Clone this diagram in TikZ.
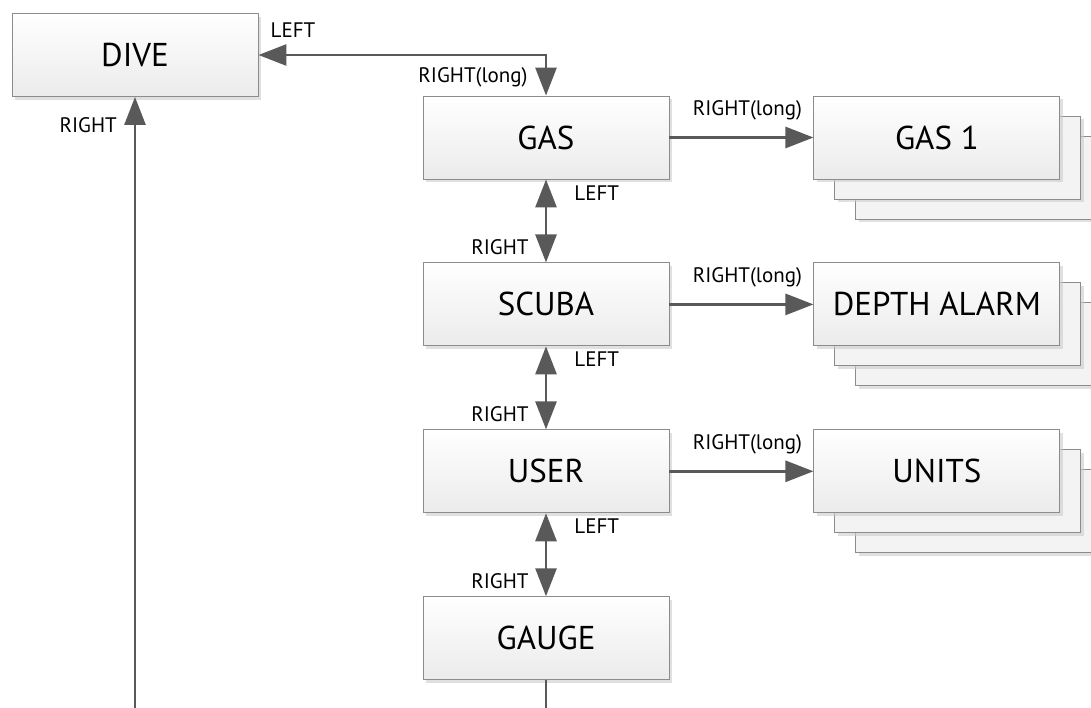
\documentclass[tikz,border=0pt]{standalone}
\usepackage{fontspec}
\setmainfont{PT Sans}
\usetikzlibrary{arrows.meta,positioning,shadows}
\definecolor{cLine}{RGB}{89,89,89}
\definecolor{cEdge}{RGB}{140,140,140}
\definecolor{cFill}{RGB}{235,235,235}
\tikzset{
  >={Triangle[length=28pt,width=21pt]},
  menu/.style={draw=cEdge, line width=0.9pt, top color=white, bottom color=cFill,
    minimum width=246pt, minimum height=83pt, inner sep=0pt,
    font=\fontsize{33}{36}\selectfont,
    drop shadow={shadow xshift=3pt, shadow yshift=-3pt, fill=black!20, opacity=0.6}},
  stack/.style={
    general shadow={shadow xshift=45pt, shadow yshift=-43pt, fill=black!20, opacity=0.6},
    general shadow={shadow xshift=42pt, shadow yshift=-40pt, draw=cEdge, line width=0.9pt, fill=cFill!60},
    general shadow={shadow xshift=24pt, shadow yshift=-23pt, fill=black!20, opacity=0.6},
    general shadow={shadow xshift=21pt, shadow yshift=-20pt, draw=cEdge, line width=0.9pt, fill=cFill!60},
    menu},
  flow/.style={draw=cLine, line width=2.8pt},
  lbl/.style={font=\fontsize{21}{23}\selectfont, inner sep=0pt}
}

\begin{document}
\begin{tikzpicture}[x=1pt,y=-1pt]
\useasboundingbox (0,0) rectangle (1091,707);
\clip (0,0) rectangle (1091,707);
% menu column
\node[menu] (dive) at (135,55) {DIVE};
\node[menu] (gas) at (546,137.5) {GAS};
\node[menu, below=83pt of gas] (scuba) {SCUBA};
\node[menu, below=83pt of scuba] (user) {USER};
\node[menu, below=83pt of user] (gauge) {GAUGE};
% sub menus
\node[stack, right=144pt of gas] (gasone) {GAS 1};
\node[stack, right=144pt of scuba] (depth) {DEPTH ALARM};
\node[stack, right=144pt of user] (units) {UNITS};
% links
\draw[flow,<->] (dive.east) -| node[lbl, pos=0.06, yshift=25pt] (diveleft) {LEFT}
  node[lbl, pos=0.78, anchor=east, xshift=-17pt] (gaslong) {RIGHT(long)} (gas.north);
\draw[flow,<->] (gas) -- node[lbl, pos=0.16, anchor=west, xshift=27pt] (gasleft) {LEFT}
  node[lbl, pos=0.82, anchor=east, xshift=-16pt] (scubaright) {RIGHT} (scuba);
\draw[flow,<->] (scuba) -- node[lbl, pos=0.16, anchor=west, xshift=27pt] (scubaleft) {LEFT}
  node[lbl, pos=0.82, anchor=east, xshift=-16pt] (userright) {RIGHT} (user);
\draw[flow,<->] (user) -- node[lbl, pos=0.16, anchor=west, xshift=27pt] (userleft) {LEFT}
  node[lbl, pos=0.82, anchor=east, xshift=-16pt] (gaugeright) {RIGHT} (gauge);
\draw[flow,->] (gas) -- node[lbl, xshift=6pt, yshift=27pt] (gasonelong) {RIGHT(long)} (gasone);
\draw[flow,->] (scuba) -- node[lbl, xshift=6pt, yshift=27pt] (depthlong) {RIGHT(long)} (depth);
\draw[flow,->] (user) -- node[lbl, xshift=6pt, yshift=27pt] (unitslong) {RIGHT(long)} (units);
\draw[flow,->] (gauge.south) -- ++(0,80) -| (dive.south);
\node[lbl, anchor=east] (backright) at ([xshift=-18pt,yshift=-28pt]dive.south) {RIGHT};
\end{tikzpicture}
\end{document}
